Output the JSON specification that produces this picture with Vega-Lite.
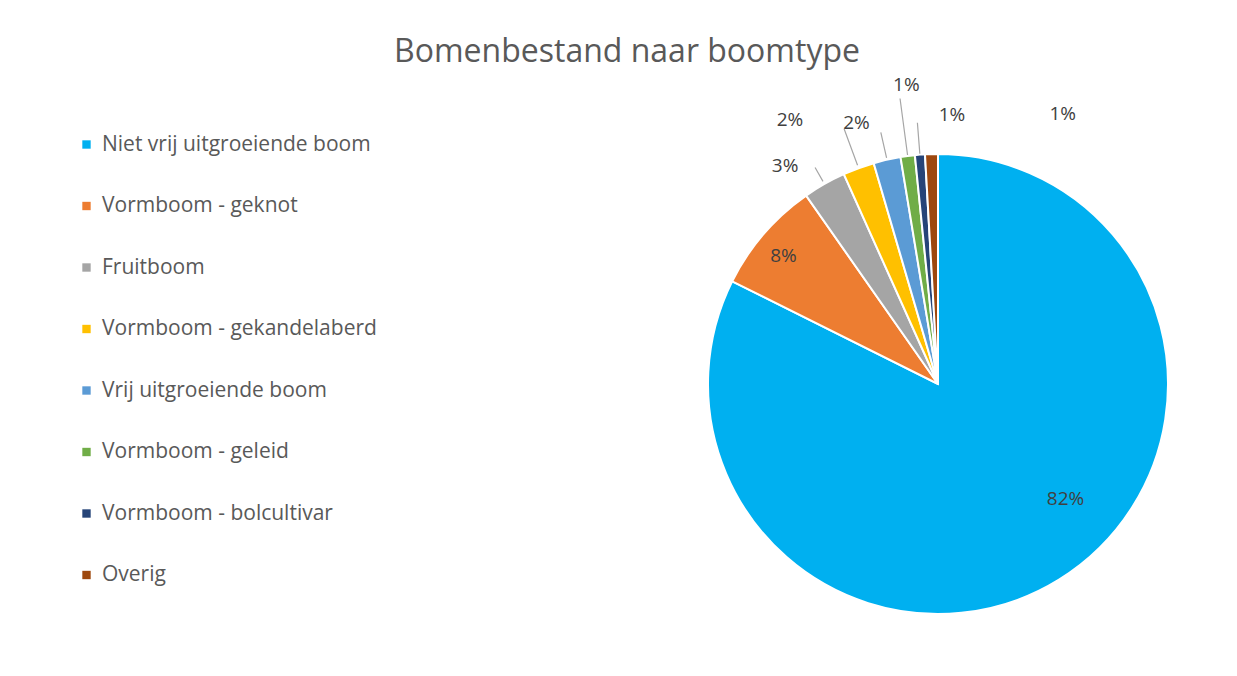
{
  "$schema": "https://vega.github.io/schema/vega-lite/v6.json",
  "autosize": {"type": "none"},
  "width": 460,
  "height": 460,
  "padding": {"left": 708, "top": 154, "right": 69, "bottom": 62},
  "background": "white",
  "config": {
    "view": {"stroke": null},
    "font": "Open Sans"
  },
  "title": {
    "text": "Bomenbestand naar boomtype",
    "anchor": "middle",
    "frame": "group",
    "dx": -311,
    "fontSize": 32,
    "fontWeight": "normal",
    "color": "#595959",
    "font": "Open Sans",
    "baseline": "alphabetic",
    "offset": -20
  },
  "data": {
    "values": [
      {"category": "Niet vrij uitgroeiende boom", "share": 0.822, "order": 1},
      {"category": "Vormboom - geknot", "share": 0.079, "order": 2},
      {"category": "Fruitboom", "share": 0.030, "order": 3},
      {"category": "Vormboom - gekandelaberd", "share": 0.022, "order": 4},
      {"category": "Vrij uitgroeiende boom", "share": 0.019, "order": 5},
      {"category": "Vormboom - geleid", "share": 0.010, "order": 6},
      {"category": "Vormboom - bolcultivar", "share": 0.007, "order": 7},
      {"category": "Overig", "share": 0.009, "order": 8}
    ]
  },
  "encoding": {
    "theta": {"field": "share", "type": "quantitative", "stack": true},
    "order": {"field": "order", "type": "quantitative"}
  },
  "layer": [
    {
      "mark": {"type": "arc", "outerRadius": 230, "stroke": "white", "strokeWidth": 2},
      "encoding": {
        "color": {
          "field": "category",
          "type": "nominal",
          "scale": {
            "domain": ["Niet vrij uitgroeiende boom", "Vormboom - geknot", "Fruitboom", "Vormboom - gekandelaberd", "Vrij uitgroeiende boom", "Vormboom - geleid", "Vormboom - bolcultivar", "Overig"],
            "range": ["#00B0F0", "#ED7D31", "#A5A5A5", "#FFC000", "#5B9BD5", "#70AD47", "#264478", "#9E480E"]
          },
          "legend": {
            "orient": "none",
            "legendX": -632,
            "legendY": -20,
            "title": null,
            "symbolType": "square",
            "symbolSize": 70,
            "symbolStrokeWidth": 0,
            "labelFontSize": 21,
            "labelFont": "Open Sans",
            "labelColor": "#595959",
            "labelOffset": 5,
            "rowPadding": 39.5,
            "padding": 0,
            "labelLimit": 400
          }
        }
      }
    },
    {
      "mark": {"type": "arc", "radius2": 233, "radius": 249, "padAngle": 3, "filled": false, "color": "#A6A6A6", "strokeWidth": 1.2},
      "encoding": {"strokeOpacity": {"condition": {"test": "datum.order === 3", "value": 1}, "value": 0}}
    },
    {
      "mark": {"type": "arc", "radius2": 233, "radius": 272, "padAngle": 3, "filled": false, "color": "#A6A6A6", "strokeWidth": 1.2},
      "encoding": {"strokeOpacity": {"condition": {"test": "datum.order === 4", "value": 1}, "value": 0}}
    },
    {
      "mark": {"type": "arc", "radius2": 232, "radius": 258, "padAngle": 3, "filled": false, "color": "#A6A6A6", "strokeWidth": 1.2},
      "encoding": {"strokeOpacity": {"condition": {"test": "datum.order === 5", "value": 1}, "value": 0}}
    },
    {
      "mark": {"type": "arc", "radius2": 231, "radius": 288, "padAngle": 3, "filled": false, "color": "#A6A6A6", "strokeWidth": 1.2},
      "encoding": {"strokeOpacity": {"condition": {"test": "datum.order === 6", "value": 1}, "value": 0}}
    },
    {
      "mark": {"type": "arc", "radius2": 231, "radius": 262, "padAngle": 3, "filled": false, "color": "#A6A6A6", "strokeWidth": 1.2},
      "encoding": {"strokeOpacity": {"condition": {"test": "datum.order === 7", "value": 1}, "value": 0}}
    },
    {
      "mark": {"type": "text", "radius": 172, "dx": 37, "dy": -31, "fontSize": 19, "color": "#404040", "font": "Open Sans"},
      "encoding": {"text": {"condition": {"test": "datum.order === 1", "field": "share", "type": "quantitative", "format": ".0%"}, "value": ""}}
    },
    {
      "mark": {"type": "text", "radius": 200, "dx": -3, "dy": 3, "fontSize": 19, "color": "#404040", "font": "Open Sans"},
      "encoding": {"text": {"condition": {"test": "datum.order === 2", "field": "share", "type": "quantitative", "format": ".0%"}, "value": ""}}
    },
    {
      "mark": {"type": "text", "radius": 255, "dx": -27, "dy": 4, "fontSize": 19, "color": "#404040", "font": "Open Sans"},
      "encoding": {"text": {"condition": {"test": "datum.order === 3", "field": "share", "type": "quantitative", "format": ".0%"}, "value": ""}}
    },
    {
      "mark": {"type": "text", "radius": 255, "dx": -60, "dy": -25, "fontSize": 19, "color": "#404040", "font": "Open Sans"},
      "encoding": {"text": {"condition": {"test": "datum.order === 4", "field": "share", "type": "quantitative", "format": ".0%"}, "value": ""}}
    },
    {
      "mark": {"type": "text", "radius": 255, "dx": -25, "dy": -12, "fontSize": 19, "color": "#404040", "font": "Open Sans"},
      "encoding": {"text": {"condition": {"test": "datum.order === 5", "field": "share", "type": "quantitative", "format": ".0%"}, "value": ""}}
    },
    {
      "mark": {"type": "text", "radius": 255, "dx": 2, "dy": -46, "fontSize": 19, "color": "#404040", "font": "Open Sans"},
      "encoding": {"text": {"condition": {"test": "datum.order === 6", "field": "share", "type": "quantitative", "format": ".0%"}, "value": ""}}
    },
    {
      "mark": {"type": "text", "radius": 255, "dx": 34, "dy": -15, "fontSize": 19, "color": "#404040", "font": "Open Sans"},
      "encoding": {"text": {"condition": {"test": "datum.order === 7", "field": "share", "type": "quantitative", "format": ".0%"}, "value": ""}}
    },
    {
      "mark": {"type": "text", "radius": 255, "dx": 132, "dy": -15, "fontSize": 19, "color": "#404040", "font": "Open Sans"},
      "encoding": {"text": {"condition": {"test": "datum.order === 8", "field": "share", "type": "quantitative", "format": ".0%"}, "value": ""}}
    }
  ]
}
